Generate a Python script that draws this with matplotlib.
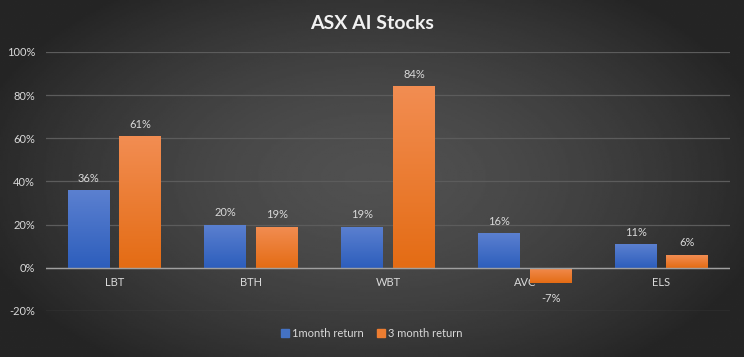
import numpy as np
import matplotlib
matplotlib.use("Agg")
import matplotlib.pyplot as plt
from matplotlib.patches import Patch

# datos
categorias = ["LBT", "BTH", "WBT", "AVC", "ELS"]
ret_1m = [36, 20, 19, 16, 11]
ret_3m = [61, 19, 84, -7, 6]
yticks = [-20, 0, 20, 40, 60, 80, 100]

plt.rcParams['font.family'] = ['Lato', 'DejaVu Sans']
txt = "#d9d9d9"

fig = plt.figure(figsize=(7.44, 3.57), dpi=100)

# fondo con gradiente radial
bg = fig.add_axes([0, 0, 1, 1], zorder=-10)
yy, xx = np.mgrid[-1:1:200j, -1:1:400j]
r = np.sqrt((xx / 1.1) ** 2 + (yy / 1.3) ** 2)
r = np.clip(r, 0, 1)
bg.imshow(0.315 - 0.17 * r ** 1.6, cmap="gray", vmin=0, vmax=1, aspect="auto",
          extent=[0, 1, 0, 1])
bg.axis("off")

ax = fig.add_axes([0.062, 0.129, 0.919, 0.7255])
ax.patch.set_alpha(0)
x = np.arange(len(categorias))
w = 0.307
off = 0.19

b1 = ax.bar(x - off, ret_1m, w, color="#4472c4", zorder=3)
b2 = ax.bar(x + off, ret_3m, w, color="#ed7d31", zorder=3)

def degradado(barras, arriba, abajo):
    cm = matplotlib.colors.LinearSegmentedColormap.from_list("g", [abajo, arriba])
    for b in barras:
        x0, y0 = b.get_x(), b.get_y()
        x1, y1 = x0 + b.get_width(), y0 + b.get_height()
        im = ax.imshow(np.linspace(0, 1, 100).reshape(-1, 1), cmap=cm, aspect="auto",
                       origin="lower", extent=[x0, x1, min(y0, y1), max(y0, y1)],
                       zorder=3.5)
        im.set_clip_path(b)

degradado(b1, "#5b80d0", "#2d5ebc")
degradado(b2, "#f28d52", "#e46c14")

for i in range(len(categorias)):
    ax.text(x[i] - off, ret_1m[i] + 3, f"{ret_1m[i]}%", ha="center", va="bottom",
            color=txt, fontsize=8)
    v = ret_3m[i]
    if v >= 0:
        ax.text(x[i] + off, v + 3, f"{v}%", ha="center", va="bottom", color=txt, fontsize=8)
    else:
        ax.text(x[i] + off, v - 4.5, f"{v}%", ha="center", va="top", color=txt, fontsize=8)

ax.set_ylim(-20, 100)
ax.set_xlim(-0.5, len(categorias) - 0.5)
ax.set_yticks(yticks)
ax.set_yticklabels([f"{t}%" for t in yticks])
ax.grid(axis="y", color="#5c5c5c", linewidth=0.9, zorder=0)
ax.axhline(0, color="#a0a0a0", linewidth=1.0, zorder=4)
ax.set_xticks([])
for i, c in enumerate(categorias):
    ax.text(x[i], -4.5, c, ha="center", va="top", color=txt, fontsize=8)
for s in ax.spines.values():
    s.set_visible(False)
ax.tick_params(axis="y", length=0, colors=txt, labelsize=8, pad=8)

fig.text(0.5, 0.933, "ASX AI Stocks", ha="center", va="center", color="#f2f2f2",
         fontsize=14, fontweight="bold")

handles = [Patch(color="#4472c4", label="1month return"),
           Patch(color="#ed7d31", label="3 month return")]
leg = fig.legend(handles=handles, loc="center", bbox_to_anchor=(0.5, 0.067), ncol=2,
                 frameon=False, fontsize=8, handlelength=0.7, handleheight=0.7,
                 handletextpad=0.3, columnspacing=1.2)
for t in leg.get_texts():
    t.set_color(txt)

plt.savefig("out.png", dpi=100)
plt.close()
